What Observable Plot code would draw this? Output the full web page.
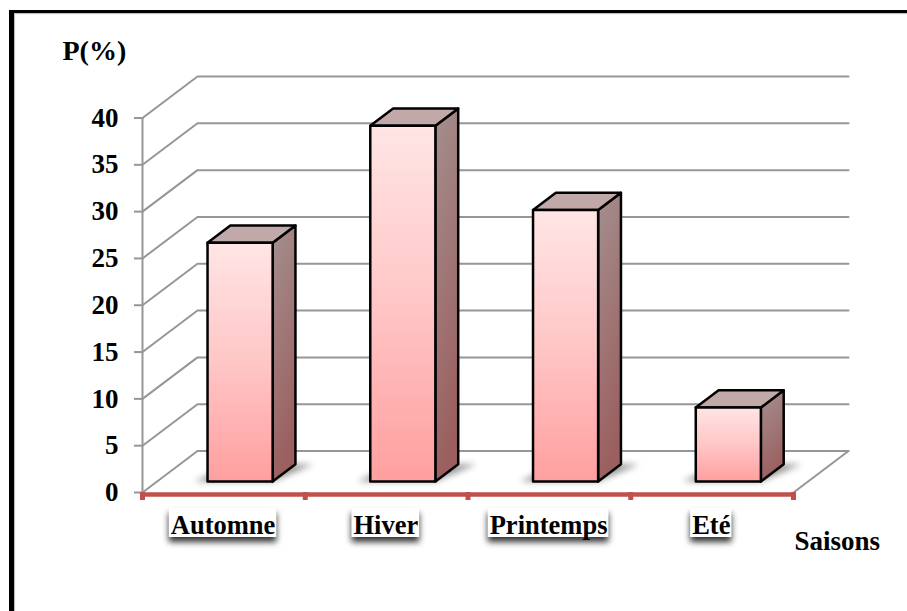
<!DOCTYPE html>
<html lang="fr">
<head>
<meta charset="utf-8">
<title>P(%) par saison</title>
<script src="https://cdn.jsdelivr.net/npm/d3@7"></script>
<script src="https://cdn.jsdelivr.net/npm/@observablehq/plot@0.6"></script>
<style>
  html, body { margin: 0; padding: 0; background: #fff; overflow: hidden; }
  #page { position: relative; width: 907px; height: 611px; }
  #border {
    position: absolute; left: 9px; top: 10px; right: 0; bottom: 0;
    border-left: 5px solid #000; border-top: 3.5px solid #000;
    box-shadow: inset 1px 1px 1px #bbb;
  }
  #chart { position: absolute; left: 0; top: 0; }
</style>
</head>
<body>
<div id="page"><div id="border"></div><div id="chart"></div></div>
<script>
const saisons = ["Automne", "Hiver", "Printemps", "Eté"];
const pourcentages = [25.5, 38, 29, 7.9];
const graduations = [0, 5, 10, 15, 20, 25, 30, 35, 40];
const limites = [0, 1, 2, 3, 4];

const FONT = "'Liberation Serif', 'Times New Roman', serif";
const TICK_SIZE = 27;
const LABEL_SIZE = 26.5;
const SAISONS_SIZE = 27;
const TITLE_SIZE = 28;

// Plot frame, used to turn pixel offsets into data units.
const WIDTH = 907, HEIGHT = 611;
const M = {left: 142, right: 114, top: 117.5, bottom: 119};
const unitX = (WIDTH - M.left - M.right) / 4;
const unitY = (HEIGHT - M.top - M.bottom) / 40;

// Oblique projection: depth 0 is the front edge of the floor, depth 1 the back wall.
const depthX = 55 / unitX, depthY = 41.5 / unitY;
const project = (x, v, d) => ({x: x + d * depthX, y: v + d * depthY});

// Bar footprint in category and depth units.
const BAR_OFFSET = 0.31, BAR_WIDTH = 0.4, BAR_FRONT = 0.265, BAR_BACK = 0.68;

const polygon = (id, corners) =>
  [...corners, corners[0]].map((c) => ({id, ...project(...c)}));

const fronts = [], sides = [], tops = [], shadows = [];
saisons.forEach((s, i) => {
  const v = pourcentages[i];
  const a = i + BAR_OFFSET, b = a + BAR_WIDTH;
  fronts.push(...polygon(s, [[a, 0, BAR_FRONT], [b, 0, BAR_FRONT], [b, v, BAR_FRONT], [a, v, BAR_FRONT]]));
  sides.push(...polygon(s, [[b, 0, BAR_FRONT], [b, 0, BAR_BACK], [b, v, BAR_BACK], [b, v, BAR_FRONT]]));
  tops.push(...polygon(s, [[a, v, BAR_FRONT], [b, v, BAR_FRONT], [b, v, BAR_BACK], [a, v, BAR_BACK]]));
  shadows.push(...polygon(s, [[a - 0.08, 0, BAR_FRONT], [b, 0, BAR_FRONT], [b + 0.11, 0, BAR_BACK], [a, 0, BAR_BACK]]));
});

// Side wall and back wall, one path per graduation.
const murs = graduations.flatMap((v) => [
  {v, ...project(0, v, 0)},
  {v, ...project(0, v, 1)},
  {v, ...project(4, v, 1)}
]);
const bordSol = [project(4, 0, 0), project(4, 0, 1)];

// Text widths decide how wide the white label plates are.
const ctx = document.createElement("canvas").getContext("2d");
ctx.font = `bold ${LABEL_SIZE}px 'Liberation Serif'`;
const plaques = saisons.map((s, i) => {
  const half = ctx.measureText(s).width / 2 + 1.5;
  const c = i + 0.495;
  return {s, c, x1: c - half / unitX, x2: c + half / unitX, y1: -16 / unitY, y2: -45 / unitY};
});

// Shared gradients for the bar faces.
function gradients() {
  const ns = "http://www.w3.org/2000/svg";
  const defs = document.createElementNS(ns, "defs");
  const add = (id, [x1, y1, x2, y2], stops) => {
    const g = document.createElementNS(ns, "linearGradient");
    g.setAttribute("id", id);
    Object.entries({x1, y1, x2, y2}).forEach(([k, val]) => g.setAttribute(k, val));
    stops.forEach(([offset, color]) => {
      const s = document.createElementNS(ns, "stop");
      s.setAttribute("offset", offset);
      s.setAttribute("stop-color", color);
      g.appendChild(s);
    });
    defs.appendChild(g);
  };
  add("face", [0, 0, 0, 1], [[0, "#ffe5e5"], [0.5, "#ffc6c6"], [1, "#ff9f9f"]]);
  add("flanc", [0, 0, 0.25, 1], [[0, "#a58f8f"], [1, "#9b5f5f"]]);
  return defs;
}

const GRID = "#969696";
const textStyle = {fontFamily: FONT, fontWeight: "bold", fill: "#000"};

const chart = Plot.plot({
  width: WIDTH,
  height: HEIGHT,
  marginLeft: M.left,
  marginRight: M.right,
  marginTop: M.top,
  marginBottom: M.bottom,
  style: {background: "transparent", overflow: "visible"},
  x: {domain: [0, 4], label: null},
  y: {domain: [0, 40], label: null},
  marks: [
    gradients,
    // Walls and floor
    Plot.line(murs, {x: "x", y: "y", z: "v", stroke: GRID, strokeWidth: 2}),
    Plot.line(bordSol, {x: "x", y: "y", stroke: GRID, strokeWidth: 2}),
    Plot.ruleX([0], {y1: 0, y2: 40, stroke: GRID, strokeWidth: 2}),
    Plot.axisY({
      ticks: graduations, tickSize: 8, tickPadding: 16, stroke: GRID, strokeWidth: 2,
      fill: "#000", fontSize: TICK_SIZE, fontFamily: FONT, fontWeight: "bold", label: null
    }),
    // Bars
    Plot.line(shadows, {x: "x", y: "y", z: "id", fill: "#999", imageFilter: "blur(3px)"}),
    Plot.line(sides, {x: "x", y: "y", z: "id", fill: "url(#flanc)", stroke: "#000", strokeWidth: 2.5, strokeLinejoin: "round"}),
    Plot.line(tops, {x: "x", y: "y", z: "id", fill: "#c2a9a9", stroke: "#000", strokeWidth: 2.5, strokeLinejoin: "round"}),
    Plot.line(fronts, {x: "x", y: "y", z: "id", fill: "url(#face)", stroke: "#000", strokeWidth: 2.5, strokeLinejoin: "round"}),
    // Category axis
    Plot.axisX({ticks: limites, tickSize: 8, stroke: "#c0504d", strokeWidth: 5, text: null, label: null}),
    Plot.ruleY([0], {stroke: "#c0504d", strokeWidth: 4.5, dy: 2}),
    // Category labels on their plates
    Plot.rect(plaques, {x1: "x1", x2: "x2", y1: "y1", y2: "y2", dy: 5, fill: "#333", imageFilter: "blur(3px)"}),
    Plot.rect(plaques, {x1: "x1", x2: "x2", y1: "y1", y2: "y2", fill: "#fff"}),
    Plot.text(plaques, {x: "c", y: 0, text: "s", dy: 33, fontSize: LABEL_SIZE, ...textStyle}),
    // Axis titles
    Plot.text(["Saisons"], {x: 4, y: 0, dy: 49, dx: 1, textAnchor: "start", fontSize: SAISONS_SIZE, ...textStyle}),
    Plot.text(["P(%)"], {x: 0, y: 40, dy: -67, dx: -80, textAnchor: "start", fontSize: TITLE_SIZE, ...textStyle})
  ]
});
document.getElementById("chart").appendChild(chart);
</script>
</body>
</html>
